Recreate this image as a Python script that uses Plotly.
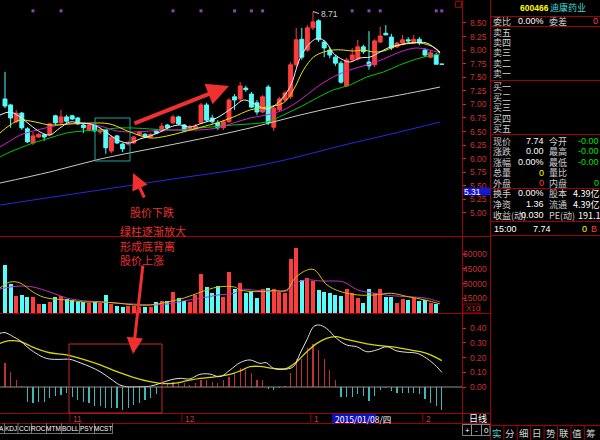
import plotly.graph_objects as go

# ---------------------------------------------------------------- data
# trading days index (Oct 16 2014 .. Feb 5 2015)
opens = [7.10, 6.99, 6.68, 6.84, 6.55, 6.29, 6.40, 6.44, 6.44, 6.79,
         6.66, 6.77, 6.79, 6.75, 6.62, 6.53, 6.62, 6.49, 6.53, 6.14,
         6.42, 6.27, 6.27, 6.29, 6.44, 6.45, 6.40, 6.51, 6.51, 6.62,
         6.66, 6.77, 6.62, 6.53, 6.55, 6.66, 6.99, 6.75, 6.66, 6.57,
         6.68, 7.14, 7.10, 7.30, 7.19, 7.03, 6.86, 7.32, 6.58, 6.90,
         7.08, 7.14, 7.73, 8.20, 8.00, 8.41, 8.54, 8.15, 8.00, 7.87,
         7.76, 7.34, 7.82, 7.84, 8.06, 7.78, 7.73, 8.15, 8.31, 8.24,
         8.06, 8.13, 8.19, 8.13, 8.20, 8.00, 7.87, 7.91, 7.74]
closes = [6.97, 6.75, 6.84, 6.57, 6.31, 6.42, 6.45, 6.40, 6.64, 6.66,
          6.77, 6.69, 6.73, 6.64, 6.57, 6.62, 6.51, 6.53, 6.20, 6.40,
          6.29, 6.18, 6.29, 6.40, 6.49, 6.40, 6.45, 6.47, 6.60, 6.57,
          6.77, 6.64, 6.51, 6.58, 6.60, 6.99, 6.71, 6.68, 6.57, 6.68,
          7.08, 7.08, 7.34, 7.27, 6.95, 6.86, 7.14, 6.66, 6.93, 7.10,
          7.21, 7.73, 8.19, 7.87, 8.41, 8.52, 8.19, 8.04, 7.91, 7.76,
          7.41, 7.82, 7.91, 8.06, 7.97, 7.71, 8.17, 8.26, 8.28, 8.04,
          8.13, 8.19, 8.17, 8.20, 8.13, 7.91, 7.95, 7.74, 7.74]
highs = [7.60, 7.01, 6.90, 6.86, 6.58, 6.49, 6.47, 6.46, 6.66, 6.81,
         6.90, 6.81, 6.81, 6.77, 6.64, 6.64, 6.64, 6.57, 6.55, 6.42,
         6.44, 6.29, 6.33, 6.42, 6.51, 6.47, 6.47, 6.53, 6.66, 6.64,
         6.81, 6.79, 6.64, 6.62, 6.64, 7.03, 7.03, 6.81, 6.71, 6.71,
         7.12, 7.19, 7.41, 7.34, 7.23, 7.08, 7.17, 7.36, 6.97, 7.14,
         7.25, 7.78, 8.41, 8.41, 8.46, 8.71, 8.57, 8.19, 8.06, 7.91,
         7.80, 7.86, 8.04, 8.19, 8.10, 8.35, 8.20, 8.43, 8.46, 8.30,
         8.15, 8.28, 8.24, 8.28, 8.24, 8.04, 8.00, 7.95, 7.74]
lows = [6.93, 6.57, 6.66, 6.53, 6.29, 6.25, 6.38, 6.33, 6.42, 6.62,
        6.64, 6.66, 6.71, 6.62, 6.47, 6.51, 6.49, 6.45, 6.09, 6.10,
        6.27, 6.12, 6.24, 6.27, 6.42, 6.38, 6.38, 6.45, 6.49, 6.53,
        6.64, 6.62, 6.49, 6.51, 6.53, 6.64, 6.68, 6.64, 6.53, 6.53,
        6.66, 6.90, 7.06, 7.23, 6.93, 6.80, 6.84, 6.62, 6.51, 6.86,
        7.06, 7.10, 7.69, 7.82, 7.97, 8.37, 8.15, 7.87, 7.85, 7.71,
        7.38, 7.32, 7.78, 7.80, 7.93, 7.64, 7.69, 8.13, 8.28, 8.00,
        8.04, 8.09, 8.13, 8.11, 8.09, 7.87, 7.85, 7.74, 7.74]
volumes = [49000, 29600, 17300, 18400, 16000, 16600, 9200, 9200, 11500, 16600,
           17300, 14000, 13300, 11500, 11500, 9900, 11500, 10500, 18400, 9200,
           7100, 6500, 7100, 7100, 6500, 5800, 6500, 11500, 12200, 12500,
           21100, 15600, 12500, 11500, 18400, 39800, 26200, 20100, 27900, 16600,
           42100, 24200, 30300, 20100, 22400, 15000, 24200, 25200, 24200, 21800,
           20100, 54800, 66000, 33700, 35400, 33000, 23500, 21800, 20700, 18400,
           17700, 24200, 20100, 15000, 10500, 24500, 20100, 24500, 16000, 16000,
           10500, 14000, 13300, 15000, 12500, 13300, 10500, 9200, 300]
macd_hist = [0.16, 0.10, 0.05, 0.01, -0.10, -0.11, -0.105, -0.10, -0.077, -0.061,
             -0.055, -0.043, -0.065, -0.088, -0.10, -0.11, -0.129, -0.129, -0.14, -0.14,
             -0.145, -0.156, -0.14, -0.125, -0.11, -0.09, -0.075, -0.045, -0.01, 0.025,
             0.034, 0.03, 0.025, 0.015, 0.025, 0.048, 0.05, 0.035, 0.025, 0.048,
             0.07, 0.093, 0.127, 0.116, 0.093, 0.048, 0.048, -0.014, -0.02, -0.01,
             0.005, 0.093, 0.188, 0.188, 0.263, 0.293, 0.252, 0.188, 0.116, 0.048,
             -0.066, -0.07, -0.066, -0.05, -0.06, -0.093, -0.06, -0.02, -0.01, -0.03,
             -0.038, -0.041, -0.038, -0.041, -0.045, -0.084, -0.107, -0.129, -0.156]
days = list(range(len(closes)))

# moving-average lines (day position, value)
ma5_x = [-0.9, 0.9, 2.7, 4.5, 6.25, 8, 9.8, 11.6, 13.4, 15.2, 17, 18.75, 20.5, 22.3, 24.1,
         25.9, 27.7, 29.5, 31.25, 33, 34.8, 37.8, 40.8, 42.6, 44.3, 46.7, 48.5, 50.9, 52.7,
         54.5, 56, 57.4, 58.6, 60.4, 61.6, 63.4, 65.2, 67, 68.75, 70.5, 72.9, 75.3, 77.7]
ma5_y = [6.805, 6.86, 6.768, 6.621, 6.492, 6.436, 6.565, 6.676, 6.657, 6.639, 6.565, 6.436,
         6.326, 6.289, 6.363, 6.418, 6.492, 6.584, 6.621, 6.584, 6.64, 6.75, 6.952, 7.081,
         7.023, 6.915, 7.007, 7.32, 7.855, 8.131, 8.223, 8.131, 7.947, 7.818, 7.781, 7.855,
         7.873, 7.965, 8.057, 8.094, 8.131, 8.131, 7.947]
ma10_x = [-0.9, 0.9, 2.7, 4.5, 6.25, 8, 11.6, 15.2, 18.75, 22.3, 25.9, 28.9, 31.8, 34.8,
          37.8, 40.8, 43.75, 46.7, 49.7, 51.5, 53.3, 55.1, 56.9, 58.6, 60.4, 62.2, 64,
          65.8, 67.6, 69.4, 71.8, 74.2, 76.5, 77.7]
ma10_y = [6.473, 6.621, 6.713, 6.694, 6.657, 6.621, 6.639, 6.657, 6.639, 6.492, 6.381,
          6.418, 6.492, 6.575, 6.657, 6.768, 6.897, 6.952, 7.026, 7.265, 7.634, 7.873,
          7.965, 8.002, 8.002, 7.983, 8.002, 7.965, 7.983, 8.057, 8.131, 8.131, 8.057, 7.965]
ma20_x = [-0.9, 0.9, 2.7, 5, 8, 11, 14, 17, 20, 23, 26, 28.9, 31.8, 34.8, 37.8, 40.8,
          43.75, 46.7, 49.7, 52.7, 55.7, 58.6, 61.6, 64.6, 67.6, 70.5, 73.5, 76.5, 77.7]
ma20_y = [6.215, 6.326, 6.436, 6.51, 6.584, 6.639, 6.657, 6.602, 6.51, 6.492, 6.51, 6.529,
          6.529, 6.529, 6.565, 6.657, 6.75, 6.805, 6.897, 7.081, 7.32, 7.505, 7.634, 7.726,
          7.836, 7.965, 8.039, 7.983, 7.947]
ma30_x = [-0.9, 0.9, 2.7, 5, 8, 11, 14, 17, 20, 23, 26, 28.9, 31.8, 34.8, 40.8, 46.7,
          49.7, 52.7, 55.7, 58.6, 61.6, 64.6, 67.6, 70.5, 73.5, 76.5, 77.7]
ma30_y = [6.031, 6.123, 6.197, 6.289, 6.381, 6.473, 6.51, 6.529, 6.565, 6.565, 6.547,
          6.529, 6.529, 6.565, 6.621, 6.676, 6.805, 6.952, 7.118, 7.265, 7.357, 7.505,
          7.597, 7.726, 7.836, 7.91, 7.928]
ma60_x = [-0.9, 8, 17, 25.9, 34.8, 43.75, 52.7, 61.6, 70.5, 77.7]
ma60_y = [5.552, 5.755, 5.994, 6.179, 6.363, 6.565, 6.805, 7.007, 7.173, 7.32]
ma120_x = [-0.9, 9.8, 20.5, 31.25, 42, 51, 59.8, 68.75, 77.7]
ma120_y = [5.147, 5.313, 5.479, 5.645, 5.81, 6.00, 6.234, 6.45, 6.676]

vma5_x = [-0.9, 0.9, 2.7, 5, 6.8, 8.6, 11, 14, 17, 20, 23, 26, 29, 32, 35, 38, 41, 42,
          45, 48, 50.3, 52, 55, 57.5, 60, 63, 66, 69, 72, 75, 77.7]
vma5_y = [25500, 31600, 30600, 21400, 16300, 14300, 13300, 11200, 11200, 10200, 8200,
          8200, 11200, 15300, 21400, 26500, 26500, 23500, 21700, 22700, 23500, 37000,
          44600, 28600, 21700, 18400, 18400, 20100, 16600, 13300, 9200]
vma10_x = [-0.9, 0.9, 2.7, 5, 8, 11, 14, 17, 20, 23, 26, 29, 32, 35, 38, 41, 42, 45,
           48, 50.3, 52, 53.8, 56.5, 59, 60.5, 63, 66, 69, 72, 75, 77.7]
vma10_y = [24500, 26500, 27500, 26500, 21400, 15300, 12500, 11500, 9900, 9200, 8200,
           9200, 12500, 15000, 18400, 20100, 24000, 23000, 22700, 22400, 30600, 33700,
           32600, 32600, 31600, 23500, 20100, 17700, 16600, 15300, 11200]

dif_x = [-0.9, 0, 1.5, 2.7, 3.9, 5.1, 6.85, 8, 9.8, 11.6, 13.4, 15.2, 17, 18.75, 20.5,
         21.7, 24.1, 25.9, 27.7, 29.5, 31.25, 33, 34.8, 36.6, 38.4, 40.2, 42, 43.75,
         45.5, 46.7, 47.9, 49.7, 51.5, 52.7, 53.9, 55.1, 56, 57.4, 59.2, 61, 62.8, 64.6,
         66.4, 68.2, 70, 71.8, 73.6, 75.3, 77.1, 78]
dif_y = [0.365, 0.37, 0.342, 0.315, 0.274, 0.24, 0.202, 0.19, 0.188, 0.188, 0.165, 0.138,
         0.104, 0.059, 0.014, 0.002, 0.002, 0.005, 0.025, 0.048, 0.059, 0.055, 0.086,
         0.088, 0.07, 0.116, 0.166, 0.184, 0.161, 0.165, 0.127, 0.12, 0.138, 0.229, 0.32,
         0.41, 0.422, 0.399, 0.331, 0.286, 0.274, 0.24, 0.252, 0.274, 0.245, 0.236, 0.229,
         0.195, 0.138, 0.10]
dea_x = [-0.9, 0.9, 2.7, 4.5, 6.25, 8, 11, 14, 17, 20, 22.9, 25.9, 27.7, 30.1, 32.4,
         34.8, 37.8, 40.8, 42, 43.75, 45.5, 47.9, 50.3, 52.1, 53.9, 55.7, 57.4, 59.2, 61,
         62.8, 65.8, 68.8, 71.8, 74.2, 76, 78]
dea_y = [0.297, 0.315, 0.31, 0.279, 0.252, 0.233, 0.218, 0.188, 0.15, 0.104, 0.066, 0.036,
         0.025, 0.025, 0.041, 0.059, 0.07, 0.093, 0.11, 0.138, 0.14, 0.127, 0.127, 0.172,
         0.24, 0.297, 0.331, 0.342, 0.324, 0.308, 0.286, 0.274, 0.256, 0.24, 0.218, 0.179]

info_days = [5, 10, 30, 35, 41, 44, 46, 62, 65, 67, 77, 78]

price_ticks = [8.50, 8.25, 8.00, 7.75, 7.50, 7.25, 7.00, 6.75, 6.50, 6.25, 6.00, 5.75,
               5.50, 5.25, 5.00]
vol_ticks = [60000, 45000, 30000, 15000]
macd_ticks = [0.40, 0.30, 0.20, 0.10, 0.00]
month_days = [12, 32, 55, 75]
month_labels = ["11", "12", "1", "2"]

# ---------------------------------------------------------------- layout helpers
W, H = 600, 440
def fx(x):
    return x / W
def fy(y):
    return 1 - y / H

RED = "#ff3c3c"
CYAN = "#54fcfc"
GRID = "#a00000"
AXT = "#c83232"
FONT = "Noto Sans CJK SC"
NUM = "Liberation Sans"

X_RANGE = [-0.893, 81.61]
P_RANGE = [4.576, 8.923]
V_RANGE = [0, 78540]
M_RANGE = [-0.1769, 0.5034]

fig = go.Figure()

fig.add_trace(go.Candlestick(
    x=days, open=opens, high=highs, low=lows, close=closes,
    increasing=dict(line=dict(color=RED, width=1), fillcolor=RED),
    decreasing=dict(line=dict(color=CYAN, width=1), fillcolor=CYAN),
    whiskerwidth=0, hoverinfo="skip", xaxis="x", yaxis="y"))

for xs, ys, col in [(ma120_x, ma120_y, "#2828e6"), (ma60_x, ma60_y, "#c8c8c8"),
                    (ma30_x, ma30_y, "#00c800"), (ma20_x, ma20_y, "#d020d0"),
                    (ma10_x, ma10_y, "#e6e600"), (ma5_x, ma5_y, "#f0f0f0")]:
    fig.add_trace(go.Scatter(x=xs, y=ys, mode="lines", line=dict(color=col, width=1, shape="spline"),
                             hoverinfo="skip", xaxis="x", yaxis="y"))

fig.add_trace(go.Scatter(x=info_days, y=[P_RANGE[1] - 0.2] * len(info_days), mode="markers",
                         marker=dict(color="#9040b0", size=3, symbol="square"),
                         hoverinfo="skip", xaxis="x", yaxis="y"))

vol_colors = [RED if c >= o else CYAN for o, c in zip(opens, closes)]
fig.add_trace(go.Bar(x=days, y=volumes, width=0.72, marker=dict(color=vol_colors, line=dict(width=0)),
                     hoverinfo="skip", xaxis="x", yaxis="y2"))
fig.add_trace(go.Scatter(x=vma10_x, y=vma10_y, mode="lines", line=dict(color="#c030c0", width=1, shape="spline"),
                         hoverinfo="skip", xaxis="x", yaxis="y2"))
fig.add_trace(go.Scatter(x=vma5_x, y=vma5_y, mode="lines", line=dict(color="#d0c000", width=1, shape="spline"),
                         hoverinfo="skip", xaxis="x", yaxis="y2"))

m_colors = ["#c03030" if v >= 0 else "#40b8b8" for v in macd_hist]
fig.add_trace(go.Bar(x=days, y=macd_hist, width=0.2, marker=dict(color=m_colors, line=dict(width=0)),
                     hoverinfo="skip", xaxis="x", yaxis="y3"))
fig.add_trace(go.Scatter(x=dea_x, y=dea_y, mode="lines", line=dict(color="#d8d800", width=1.3, shape="spline"),
                         hoverinfo="skip", xaxis="x", yaxis="y3"))
fig.add_trace(go.Scatter(x=dif_x, y=dif_y, mode="lines", line=dict(color="#e0e0e0", width=1, shape="spline"),
                         hoverinfo="skip", xaxis="x", yaxis="y3"))

shapes = []
def hline(y, x0, x1, color=GRID, width=1, dash="solid"):
    shapes.append(dict(type="line", xref="paper", yref="paper", x0=fx(x0), x1=fx(x1),
                       y0=fy(y), y1=fy(y), line=dict(color=color, width=width, dash=dash)))
def vline(x, y0, y1, color=GRID, width=1):
    shapes.append(dict(type="line", xref="paper", yref="paper", x0=fx(x), x1=fx(x),
                       y0=fy(y0), y1=fy(y1), line=dict(color=color, width=width)))
def rect(x0, y0, x1, y1, color, width=1, fill="rgba(0,0,0,0)"):
    shapes.append(dict(type="rect", xref="paper", yref="paper", x0=fx(x0), x1=fx(x1),
                       y0=fy(y1), y1=fy(y0), line=dict(color=color, width=width), fillcolor=fill))

# panel frame
vline(462.5, 0, 423)
vline(490.5, 0, 440)
hline(236.5, 0, 490)
hline(313.5, 0, 490)
hline(413.5, 0, 490)
hline(423.5, 0, 490)
# macd zero line
shapes.append(dict(type="line", xref="paper", yref="y3", x0=0, x1=fx(462), y0=0, y1=0,
                   line=dict(color="#909090", width=1)))
# month ticks
for d in month_days:
    shapes.append(dict(type="line", xref="x", yref="paper", x0=d - 0.4, x1=d - 0.4,
                       y0=fy(414), y1=fy(422), line=dict(color=GRID, width=1)))
# right panel separators
for y in [16.5, 26.5, 80.5, 134.5, 188.5, 221.5, 235.5]:
    hline(y, 490, 600)
# annotation boxes
rect(95, 118, 130, 161, "#20a8a0")
rect(69, 344, 162, 413, "#c02828")
# date highlight box
rect(332, 414, 376, 423, "#0000b0", 0, "#1010b8")
# x10 box
rect(463, 304, 480, 313, GRID, 1)
# small icon top
rect(455.5, 1.5, 461.5, 7.5, GRID, 1)
# bottom-left indicator tabs
tab_sep = [4, 17.5, 31, 46, 61, 79, 94, 112]
for x in tab_sep:
    vline(x + 0.5, 423, 433, "#707070")
hline(433.5, 0, 113, "#707070")
# "+ - 0" buttons
for x in [471.5, 481.5]:
    vline(x, 425, 435, "#909090")
rect(462.5, 424.5, 490, 435.5, "#808080", 1)
# right bottom tabs
hline(425.5, 490, 600)

ann = []
def txt(x, y, s, color="#d0d0d0", size=9, anchor="left", xref="paper", yref="paper", font=FONT, **kw):
    d = dict(x=fx(x) if xref == "paper" else x, y=fy(y) if yref == "paper" else y,
             xref=xref, yref=yref, text=s, showarrow=False, xanchor=anchor, yanchor="middle",
             font=dict(family=font, size=size, color=color))
    d.update(kw)
    ann.append(d)

for v in price_ticks:
    txt(489, v, f"{v:.2f}", AXT, 8.5, "right", yref="y", font=NUM)
for v in vol_ticks:
    txt(489, v, str(v), AXT, 8.5, "right", yref="y2", font=NUM)
for v in macd_ticks:
    txt(489, v, f"{v:.2f}", AXT, 8.5, "right", yref="y3", font=NUM)
# current-value tag on the axis (drawn over the label beneath it)
ann.append(dict(x=fx(463), y=fy(191.5), xref="paper", yref="paper", text="5.31", showarrow=False,
                xanchor="left", yanchor="middle", width=26, height=7, align="left",
                bgcolor="#1818c8", borderpad=0, font=dict(family=NUM, size=8.5, color="#ffffff")))
txt(464, 308.5, "X10", AXT, 8, "left", font=NUM)

for d, s in zip(month_days, month_labels):
    ann.append(dict(x=d - 0.2, y=fy(418.5), xref="x", yref="paper", text=s, showarrow=False,
                    xanchor="left", yanchor="middle", font=dict(family=NUM, size=8.5, color="#b04040")))
txt(333, 418.5, "2015/01/08/四", "#ffffff", 8.5, "left")

# high marker
ann.append(dict(x=55, y=8.71, xref="x", yref="y", text="8.71", showarrow=True, arrowhead=0,
                arrowcolor="#d0d0d0", arrowwidth=1, ax=6, ay=2, xanchor="left", yanchor="middle",
                font=dict(family=NUM, size=8.5, color="#d0d0d0")))

# annotations text
RT = "#e83030"
txt(128, 212, "股价下跌", RT, 11)
txt(118, 231, "绿柱逐渐放大", RT, 11)
txt(118, 245.5, "形成底背离", RT, 11)
txt(118, 259.5, "股价上涨", RT, 11)

def arrow(hx, hy, tx, ty, width):
    ann.append(dict(x=fx(hx), y=fy(hy), xref="paper", yref="paper", ax=tx - hx, ay=ty - hy,
                    text="", showarrow=True, arrowhead=2, arrowsize=1.1, arrowwidth=width,
                    arrowcolor="#f03030"))
arrow(229, 86, 133, 124, 4)
arrow(133, 173, 145, 199, 3)
arrow(133, 354, 143, 264, 3)

# right panel
LAB = "#d0d0d0"
txt(518, 7.5, "<b>600466</b>", "#ffff00", 8.5, font=NUM)
txt(548, 7.5, "迪康药业", "#40d8d8", 9)
txt(491, 21.5, "委比", LAB)
txt(545.5, 21.5, "0.00%", "#ffffff", 9, "right", font=NUM)
txt(547, 21.5, "委差", LAB)
txt(600, 21.5, "0", RED, 9, "right", font=NUM)
sell_rows = ["卖五", "卖四", "卖三", "卖二", "卖一"]
buy_rows = ["买一", "买二", "买三", "买四", "买五"]
for i, s in enumerate(sell_rows):
    txt(491, 32.5 + 10.2 * i, s, LAB)
for i, s in enumerate(buy_rows):
    txt(491, 86.5 + 10.5 * i, s, LAB)

q_lab1 = ["现价", "涨跌", "涨幅", "总量", "外盘"]
q_val1 = ["7.74", "0.00", "0.00%", "0", "0"]
q_col1 = ["#ffffff", "#ffffff", "#ffffff", "#ffff00", RED]
q_lab2 = ["今开", "最高", "最低", "量比", "内盘"]
q_val2 = ["-0.00", "-0.00", "-0.00", "", "0"]
q_col2 = ["#00e000", "#00e000", "#00e000", "#ffffff", "#00e000"]
for i in range(5):
    y = 141 + 10.5 * i
    txt(491, y, q_lab1[i], LAB)
    txt(545.5, y, q_val1[i], q_col1[i], 9, "right", font=NUM)
    txt(547, y, q_lab2[i], LAB)
    txt(601, y, q_val2[i], q_col2[i], 9, "right", font=NUM)

f_lab1 = ["换手", "净资", "收益(动)"]
f_val1 = ["0.00%", "1.36", "0.030"]
f_lab2 = ["股本", "流通", "PE(动)"]
f_val2 = ["4.39亿", "4.39亿", "191.1"]
for i in range(3):
    y = 193 + 11 * i
    txt(491, y, f_lab1[i], LAB)
    txt(545.5, y, f_val1[i], "#ffffff", 9, "right", font=NUM)
    txt(547, y, f_lab2[i], LAB)
    txt(602, y, f_val2[i], "#ffffff", 9, "right")

txt(492, 228.5, "15:00", "#ffffff", 9, font=NUM)
txt(553, 228.5, "7.74", "#ffffff", 9, "right", font=NUM)
txt(589, 228.5, "0", "#ffff00", 9, "right", font=NUM)
txt(599, 228.5, "B", RED, 9, "right", font=NUM)

txt(478, 418, "日线", "#ffffff", 9, "center")
for x, s in zip([467, 476.5, 486], ["+", "-", "0"]):
    txt(x, 430, s, "#ffffff", 8, "center", font=NUM)

tabs = ["A", "KDJ", "CCI", "ROC", "MTM", "BOLL", "PSY", "MCST"]
tab_x = [1, 10.5, 24.5, 38.5, 53.5, 70, 86.5, 103]
for x, s in zip(tab_x, tabs):
    txt(x, 428, s, "#ffffff", 6.5, "center", font=NUM)
rtabs = ["实", "分", "细", "日", "势", "联", "值", "筹"]
for i, s in enumerate(rtabs):
    txt(497 + 13.4 * i, 433, s, "#40d0d0" if i == 0 else "#d0d0d0", 9.5, "center")
    if i > 0:
        vline(490.5 + 13.4 * i, 426, 440)

axis_common = dict(showgrid=False, zeroline=False, showline=False, showticklabels=False,
                   ticks="outside", ticklen=3, tickcolor=AXT, side="right", anchor="x", fixedrange=True)

fig.update_layout(
    width=W, height=H, margin=dict(l=0, r=0, t=0, b=0),
    paper_bgcolor="#000000", plot_bgcolor="#000000", showlegend=False,
    hovermode=False, bargap=0, boxgap=0.3, boxgroupgap=0,
    xaxis=dict(domain=[0, 462 / 600], range=X_RANGE, showgrid=False, zeroline=False,
               showticklabels=False, ticks="", showline=False, rangeslider=dict(visible=False),
               fixedrange=True),
    yaxis=dict(domain=[fy(236), 1], range=P_RANGE, tickvals=price_ticks, **axis_common),
    yaxis2=dict(domain=[fy(313), fy(236)], range=V_RANGE, tickvals=vol_ticks, **axis_common),
    yaxis3=dict(domain=[fy(413), fy(313)], range=M_RANGE, tickvals=macd_ticks, **axis_common),
    shapes=shapes, annotations=ann,
)

fig.write_html("out.html", config=dict(displayModeBar=False, staticPlot=True),
               post_script="document.body.style.margin='0px';document.body.style.background='#000';")
